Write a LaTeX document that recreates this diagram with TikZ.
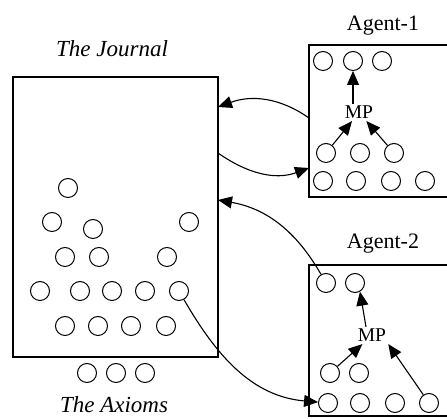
\documentclass[tikz,border=0pt]{standalone}
\usepackage{fontspec}
\setmainfont{Liberation Serif}
\usetikzlibrary{arrows.meta}
\tikzset{
  ball/.style={circle, draw, line width=1pt, minimum size=19pt, inner sep=0pt},
  store/.style={draw, line width=1.2pt, inner sep=0pt, outer sep=0pt},
  storename/.style={anchor=base, inner sep=0pt, font=\fontsize{23}{27}\selectfont\itshape},
  agentname/.style={anchor=base, font=\fontsize{22}{26}\selectfont},
  mplabel/.style={inner sep=2pt, font=\fontsize{19.5}{22}\selectfont},
  arr/.style={-{Triangle[length=14pt,width=12pt]}, line width=1.1pt},
}
\begin{document}
\begin{tikzpicture}[x=1pt,y=1pt]
  \useasboundingbox (0,0) rectangle (447,419);
  \clip (0,0) rectangle (447,419);
  % the journal and the two agents
  \node[store, minimum width=205pt, minimum height=280pt] (journal) at (115.5,202) {};
  \node[store, minimum width=146pt, minimum height=152pt] (agent1) at (382,298) {};
  \node[store, minimum width=146pt, minimum height=151pt] (agent2) at (382,78.5) {};
  \node[storename] (journaltitle) at (112,362) {The Journal};
  \node[storename] (axiomstitle) at (114,6) {The Axioms};
  \node[agentname] (agent1title) at (383,388) {Agent-1};
  \node[agentname] (agent2title) at (383,170) {Agent-2};
  % formulas
  \foreach \x/\y [count=\i] in {68/231, 52/197, 93/190, 189/197, 65/162, 99/162, 167/162,
      40/128, 80/128, 112/128, 145/128, 179/128, 65/93, 98/93, 131/93, 166/93}
    \node[ball] (j\i) at (\x,\y) {};
  \foreach \x [count=\i] in {87,116,145}
    \node[ball] (ax\i) at (\x,46) {};
  \foreach \x [count=\i] in {323,353,382}
    \node[ball] (a1t\i) at (\x,358) {};
  \foreach \x [count=\i] in {326,360,394}
    \node[ball] (a1m\i) at (\x,266) {};
  \foreach \x [count=\i] in {323,356,391,425}
    \node[ball] (a1b\i) at (\x,238) {};
  \foreach \x [count=\i] in {326,355}
    \node[ball] (a2t\i) at (\x,136) {};
  \foreach \x [count=\i] in {330,359}
    \node[ball] (a2m\i) at (\x,46) {};
  \foreach \x [count=\i] in {328,360,395,429}
    \node[ball] (a2b\i) at (\x,16) {};
  \node[mplabel] (mp1) at (359,306.5) {MP};
  \node[mplabel] (mp2) at (372,83.5) {MP};
  % modus ponens steps
  \draw[arr] (mp1.north -| a1t2) -- (a1t2.south);
  \draw[arr] (a1m1) -- (mp1);
  \draw[arr] (a1m3) -- (mp1);
  \draw[arr] ([xshift=-6pt]mp2.north) -- (a2t2.-60);
  \draw[arr] (a2m1) -- (mp2);
  \draw[arr] (a2b4) -- (mp2.south east);
  % exchange with the journal
  \draw[arr] ([yshift=3pt]agent1.west) to[out=145, in=20] ([yshift=-30pt]journal.north east);
  \draw[arr] ([yshift=-76pt]journal.north east) to[out=-35, in=200] ([yshift=29pt]agent1.south west);
  \draw[arr] (a2t1) to[out=120, in=-10] ([yshift=-123pt]journal.north east);
  \draw[arr] (j12) to[out=-60, in=175] (a2b1);
\end{tikzpicture}
\end{document}
